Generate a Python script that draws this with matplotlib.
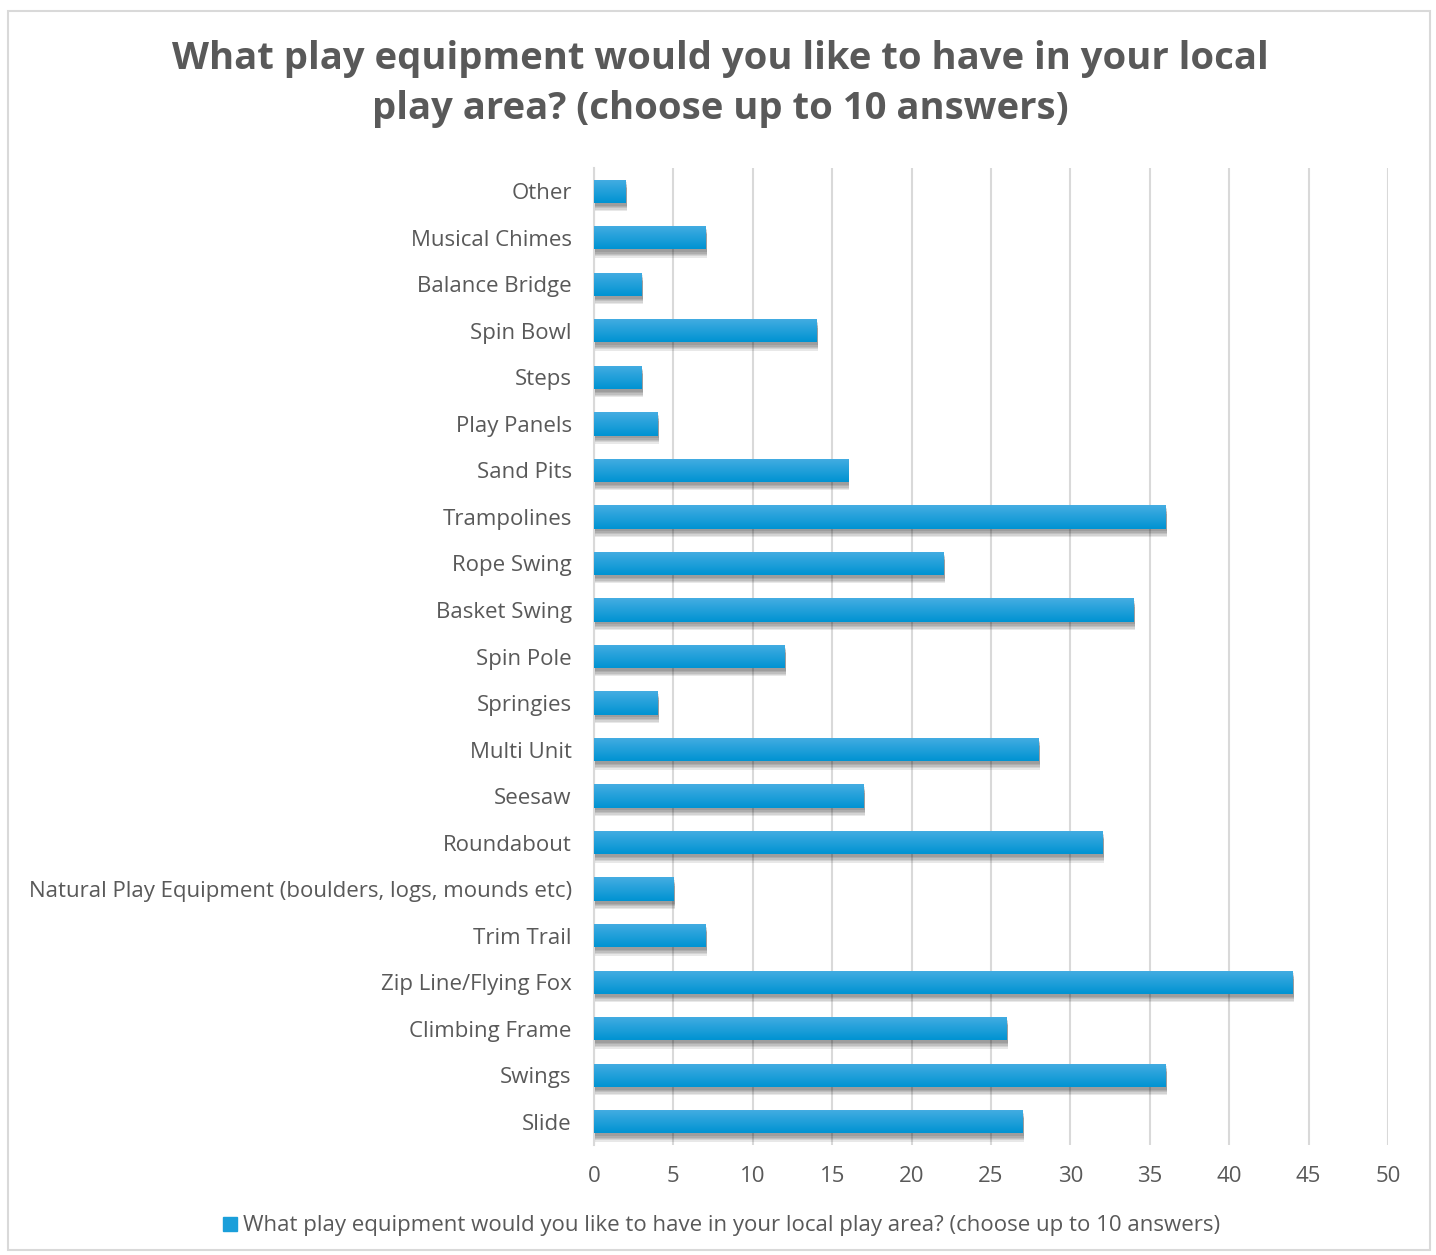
import numpy as np
import matplotlib
matplotlib.use("Agg")
import matplotlib.pyplot as plt
from matplotlib.patches import Rectangle
import matplotlib.patheffects as pe

plt.rcParams['font.family'] = ['Open Sans', 'DejaVu Sans']

categories = ["Slide", "Swings", "Climbing Frame", "Zip Line/Flying Fox", "Trim Trail",
              "Natural Play Equipment (boulders, logs, mounds etc)", "Roundabout", "Seesaw",
              "Multi Unit", "Springies", "Spin Pole", "Basket Swing", "Rope Swing",
              "Trampolines", "Sand Pits", "Play Panels", "Steps", "Spin Bowl",
              "Balance Bridge", "Musical Chimes", "Other"]
values = [27, 36, 26, 44, 7, 5, 32, 17, 28, 4, 12, 34, 22, 36, 16, 4, 3, 14, 3, 7, 2]
xticks = [0, 5, 10, 15, 20, 25, 30, 35, 40, 45, 50]

title = "What play equipment would you like to have in your local\nplay area? (choose up to 10 answers)"
series_name = "What play equipment would you like to have in your local play area? (choose up to 10 answers)"

text_col = "#595959"
bar_top = np.array([0x45, 0xAD, 0xE2]) / 255
bar_bot = np.array([0x00, 0x93, 0xD2]) / 255

fig = plt.figure(figsize=(14.36, 12.55), dpi=100)
fig.patches.append(Rectangle((8 / 1436, 1 - 1250 / 1255), 1422 / 1436, 1239 / 1255,
                             transform=fig.transFigure, fill=False, edgecolor="#D9D9D9", lw=1.5))
ax = fig.add_axes([594 / 1436, 1 - 1145 / 1255, 794 / 1436, 977 / 1255])

y = np.arange(len(categories))
h = 0.5
# soft drop shadow from a few faint offset copies
shadow = [pe.SimplePatchShadow(offset=(1, -k), shadow_rgbFace="#000000", alpha=0.09)
          for k in (2, 3, 4, 5, 6)]
bars = ax.barh(y, values, height=h, color="#1A9FDA", zorder=3,
               path_effects=shadow + [pe.Normal()])

# vertical gradient on each bar, lighter at the top
grad = np.linspace(0, 1, 64)[:, None, None]
img = bar_top * (1 - grad) + bar_bot * grad
for b in bars:
    x0, y0 = b.get_x(), b.get_y()
    im = ax.imshow(img, extent=[x0, x0 + b.get_width(), y0, y0 + b.get_height()],
                   aspect="auto", zorder=4, interpolation="bilinear")
    im.set_clip_path(b)

ax.set_xlim(0, 50)
ax.set_ylim(-0.5, len(categories) - 0.5)
ax.set_xticks(xticks)
ax.set_yticks(y)
ax.set_yticklabels(categories)
ax.tick_params(axis="both", length=0, labelsize=16, colors=text_col)
ax.tick_params(axis="y", pad=16)
ax.tick_params(axis="x", pad=15)
ax.grid(axis="x", color="#D9D9D9", lw=1.5, zorder=0)
for s in ["top", "right", "bottom"]:
    ax.spines[s].set_visible(False)
ax.spines["left"].set_color("#D9D9D9")
ax.spines["left"].set_linewidth(1.5)

fig.text(720 / 1436, 1 - 84 / 1255, title, ha="center", va="center", fontsize=27.5,
         fontweight="bold", color=text_col, linespacing=1.42)

fig.legend([Rectangle((0, 0), 1, 1, color="#1A9FDA")], [series_name],
           loc="center", bbox_to_anchor=(722 / 1436, 1 - 1226 / 1255), frameon=False,
           fontsize=16, labelcolor=text_col, handlelength=0.6, handleheight=0.6,
           handletextpad=0.3)

fig.savefig("out.png", dpi=100)
